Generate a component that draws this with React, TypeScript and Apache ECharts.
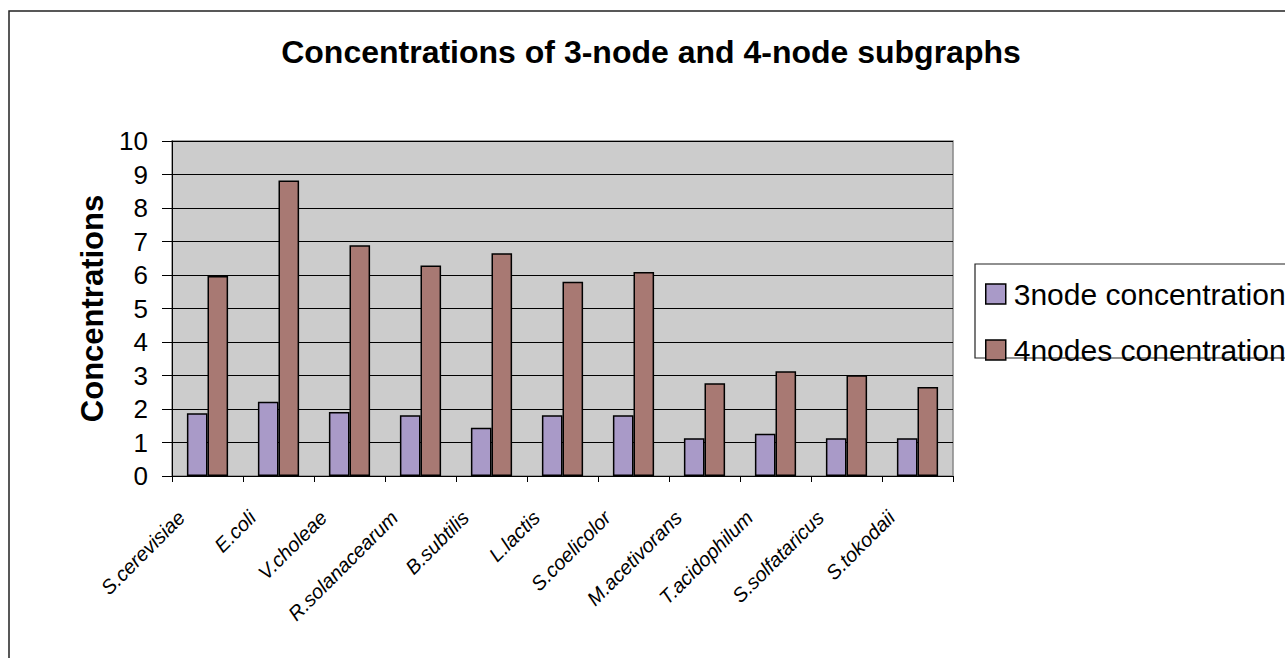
import React, { useEffect, useRef } from "react";
import * as echarts from "echarts";

const categories = [
  "S.cerevisiae",
  "E.coli",
  "V.choleae",
  "R.solanacearum",
  "B.subtilis",
  "L.lactis",
  "S.coelicolor",
  "M.acetivorans",
  "T.acidophilum",
  "S.solfataricus",
  "S.tokodaii",
];
const node3 = [1.87, 2.22, 1.91, 1.81, 1.44, 1.81, 1.81, 1.13, 1.26, 1.13, 1.13];
const node4 = [5.97, 8.82, 6.89, 6.28, 6.65, 5.8, 6.09, 2.77, 3.13, 3.01, 2.66];
const seriesNames = ["3node concentration", "4nodes conentration"];
const titleText = "Concentrations of 3-node and 4-node subgraphs";
const yAxisName = "Concentrations";

const FONT = "'Liberation Sans', Arial, Helvetica, sans-serif";

export default function App() {
  const ref = useRef<HTMLDivElement>(null);
  useEffect(() => {
    if (!ref.current) return;
    const chart = echarts.init(ref.current, undefined, { renderer: "svg" });
    chart.setOption({
      animation: false,
      backgroundColor: "#ffffff",
      textStyle: { fontFamily: FONT },
      title: {
        text: titleText,
        left: 651,
        textAlign: "center",
        top: 36,
        padding: 0,
        textStyle: { fontSize: 32, fontWeight: "bold", color: "#000", fontFamily: FONT },
      },
      graphic: [
        {
          type: "rect",
          shape: { x: 9, y: 11, width: 1400, height: 800 },
          style: { fill: "none", stroke: "#222", lineWidth: 1.5 },
          silent: true,
        },
        {
          type: "rect",
          shape: { x: 975, y: 264, width: 400, height: 94 },
          style: { fill: "#fff", stroke: "#222", lineWidth: 1.2 },
          silent: true,
          z: -1,
        },
      ],
      legend: {
        orient: "vertical",
        left: 985,
        top: 279,
        padding: 0,
        itemWidth: 20,
        itemHeight: 20,
        itemGap: 26,
        icon: "rect",
        itemStyle: { borderColor: "#000", borderWidth: 1.5 },
        textStyle: {
          fontSize: 30,
          lineHeight: 20,
          color: "#000",
          fontFamily: FONT,
          padding: [0, 0, 0, 3],
        },
        data: seriesNames,
      },
      grid: {
        left: 172,
        top: 141,
        right: 332,
        bottom: 182,
        show: true,
        backgroundColor: "#cccccc",
        borderColor: "#888",
        borderWidth: 1.5,
      },
      xAxis: {
        type: "category",
        data: categories,
        axisLine: { lineStyle: { color: "#000", width: 1 } },
        axisTick: { show: true, alignWithLabel: false, length: 6, lineStyle: { color: "#000" } },
        axisLabel: {
          rotate: 45,
          interval: 0,
          fontSize: 20,
          fontStyle: "italic",
          color: "#000",
          fontFamily: FONT,
          margin: 12,
          padding: [0, 37, 0, 0],
        },
      },
      yAxis: {
        type: "value",
        min: 0,
        max: 10,
        interval: 1,
        name: yAxisName,
        nameLocation: "middle",
        nameGap: 51,
        nameTextStyle: { fontSize: 31, fontWeight: "bold", color: "#000", fontFamily: FONT },
        axisLine: { show: true, lineStyle: { color: "#000", width: 1 } },
        axisTick: { show: true, length: 10, lineStyle: { color: "#000" } },
        axisLabel: { fontSize: 26, color: "#000", fontFamily: FONT, margin: 24 },
        splitLine: { show: true, lineStyle: { color: "#000", width: 1 } },
      },
      series: [
        {
          name: seriesNames[0],
          type: "bar",
          data: node3,
          barGap: "0%",
          barCategoryGap: "42%",
          itemStyle: { color: "#a99ac8", borderColor: "#000", borderWidth: 1.5 },
        },
        {
          name: seriesNames[1],
          type: "bar",
          data: node4,
          itemStyle: { color: "#a87973", borderColor: "#000", borderWidth: 1.5 },
        },
      ],
    });
    return () => chart.dispose();
  }, []);
  return <div ref={ref} style={{ width: 1285, height: 658, position: "absolute", left: 0, top: 0 }} />;
}
